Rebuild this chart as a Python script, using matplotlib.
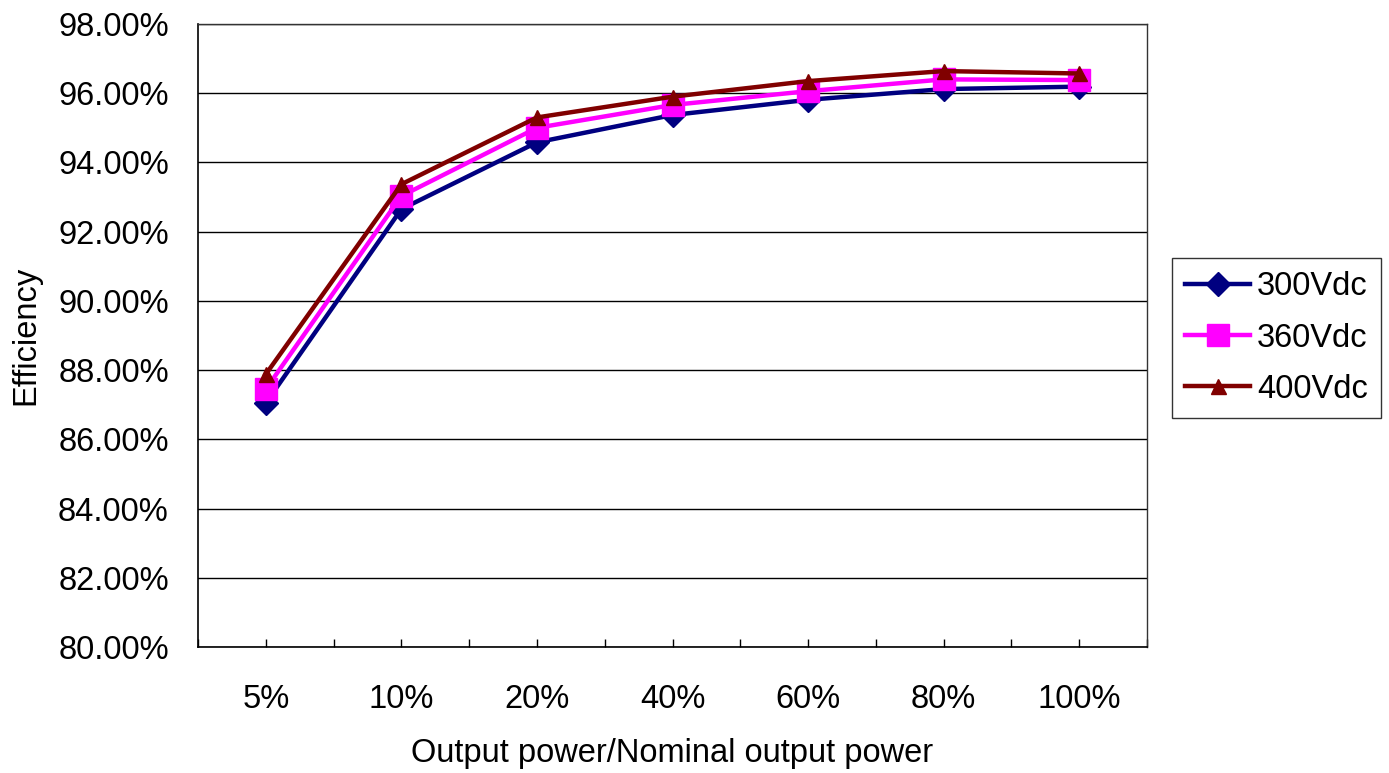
import matplotlib
matplotlib.use("Agg")
import matplotlib.pyplot as plt
from matplotlib.ticker import FuncFormatter, MultipleLocator
import numpy as np

categories = ["5%", "10%", "20%", "40%", "60%", "80%", "100%"]
v300 = [87.05, 92.65, 94.58, 95.37, 95.81, 96.12, 96.19]
v360 = [87.45, 93.03, 95.00, 95.66, 96.06, 96.40, 96.38]
v400 = [87.88, 93.37, 95.30, 95.90, 96.35, 96.64, 96.57]
series_names = ["300Vdc", "360Vdc", "400Vdc"]

plt.rcParams['font.family'] = ['Liberation Sans', 'DejaVu Sans']

FS = 23.5

fig = plt.figure(figsize=(13.89, 7.73), dpi=100)
ax = fig.add_axes([198/1389, (773-647)/773, (1147-198)/1389, (647-24)/773])

x = np.arange(len(categories))
ax.plot(x, v300, color='#000080', lw=3.2, marker='D', ms=12.7, label=series_names[0], zorder=3)
ax.plot(x, v360, color='#FF00FF', lw=3.2, marker='s', ms=16.3, label=series_names[1], zorder=4)
ax.plot(x, v400, color='#800000', lw=3.2, marker='^', ms=10.8, label=series_names[2], zorder=5)

ax.set_xlim(-0.5, len(categories) - 0.5)
ax.set_ylim(80, 98)
ax.yaxis.set_major_locator(MultipleLocator(2))
ax.yaxis.set_major_formatter(FuncFormatter(lambda v, p: f"{v:.2f}%"))
ax.grid(axis='y', color='black', lw=1)
ax.set_axisbelow(True)

ax.set_xticks(x)
ax.set_xticklabels(categories)
ax.set_xticks(np.arange(-0.5, len(categories), 1.0), minor=True)
ax.tick_params(axis='x', which='both', direction='in', length=6, width=1, color='black')
ax.tick_params(axis='x', which='major', labelsize=FS, pad=27)
ax.tick_params(axis='y', length=0, labelsize=FS, pad=21)

for s in ['left', 'bottom']:
    ax.spines[s].set_color('black')
    ax.spines[s].set_linewidth(1.2)
for s in ['top', 'right']:
    ax.spines[s].set_color('#333333')
    ax.spines[s].set_linewidth(1)

ax.set_xlabel("Output power/Nominal output power", fontsize=FS, labelpad=16)
ax.set_ylabel("Efficiency", fontsize=FS, labelpad=12)

leg = fig.legend(loc='center left', bbox_to_anchor=(1172/1389, (773-338)/773),
                 fontsize=FS, frameon=True, fancybox=False, edgecolor='black',
                 handlelength=2.0, handletextpad=0.2, labelspacing=0.62,
                 borderpad=0.4, borderaxespad=0)
leg.get_frame().set_linewidth(1)

fig.savefig("out.png", dpi=100)
